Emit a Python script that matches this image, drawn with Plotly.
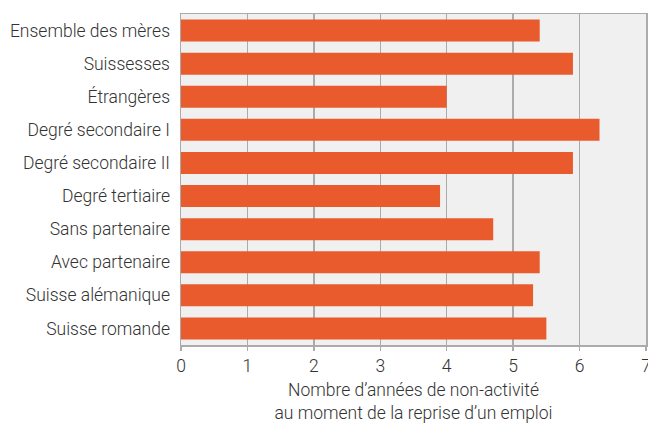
import plotly.graph_objects as go

categories = ["Ensemble des mères", "Suissesses", "Étrangères", "Degré secondaire I",
              "Degré secondaire II", "Degré tertiaire", "Sans partenaire",
              "Avec partenaire", "Suisse alémanique", "Suisse romande"]
values = [5.4, 5.9, 4.0, 6.3, 5.9, 3.9, 4.7, 5.4, 5.3, 5.5]
x_ticks = [0, 1, 2, 3, 4, 5, 6, 7]
x_title = "Nombre d’années de non-activité<br>au moment de la reprise d’un emploi"

grid = "#ABABAB"
fig = go.Figure(go.Bar(
    y=categories, x=values, orientation="h",
    marker=dict(color="#E95B2C", line=dict(width=0)),
    hoverinfo="skip",
))
fig.update_layout(
    width=648, height=423,
    margin=dict(l=181, r=2, t=14, b=78, autoexpand=False),
    paper_bgcolor="white", plot_bgcolor="#EFF0EF",
    bargap=0.335,
    showlegend=False,
    font=dict(family="Roboto", size=17.5, color="#333333", weight=300),
)
fig.update_xaxes(
    range=[0, 7], tickvals=x_ticks, ticktext=[str(t) for t in x_ticks],
    showgrid=True, gridcolor=grid, gridwidth=1.5,
    showline=True, linecolor=grid, linewidth=1.5, mirror=True,
    ticks="outside", ticklen=4, tickcolor=grid, tickwidth=1.5,
    ticklabeloverflow="allow",
    zeroline=False, automargin=False,
    title=dict(text=x_title, standoff=10, font=dict(size=17.5)),
    fixedrange=True,
)
fig.update_yaxes(
    categoryorder="array", categoryarray=categories, autorange="reversed",
    showgrid=False, showline=True, linecolor=grid, linewidth=1.5, mirror=True,
    ticks="", ticklabelstandoff=6, zeroline=False, automargin=False,
    fixedrange=True,
)
fig.write_html(
    "out.html",
    config={"displayModeBar": False, "staticPlot": True},
    post_script="document.body.style.margin='0';document.body.style.overflow='hidden';",
)
